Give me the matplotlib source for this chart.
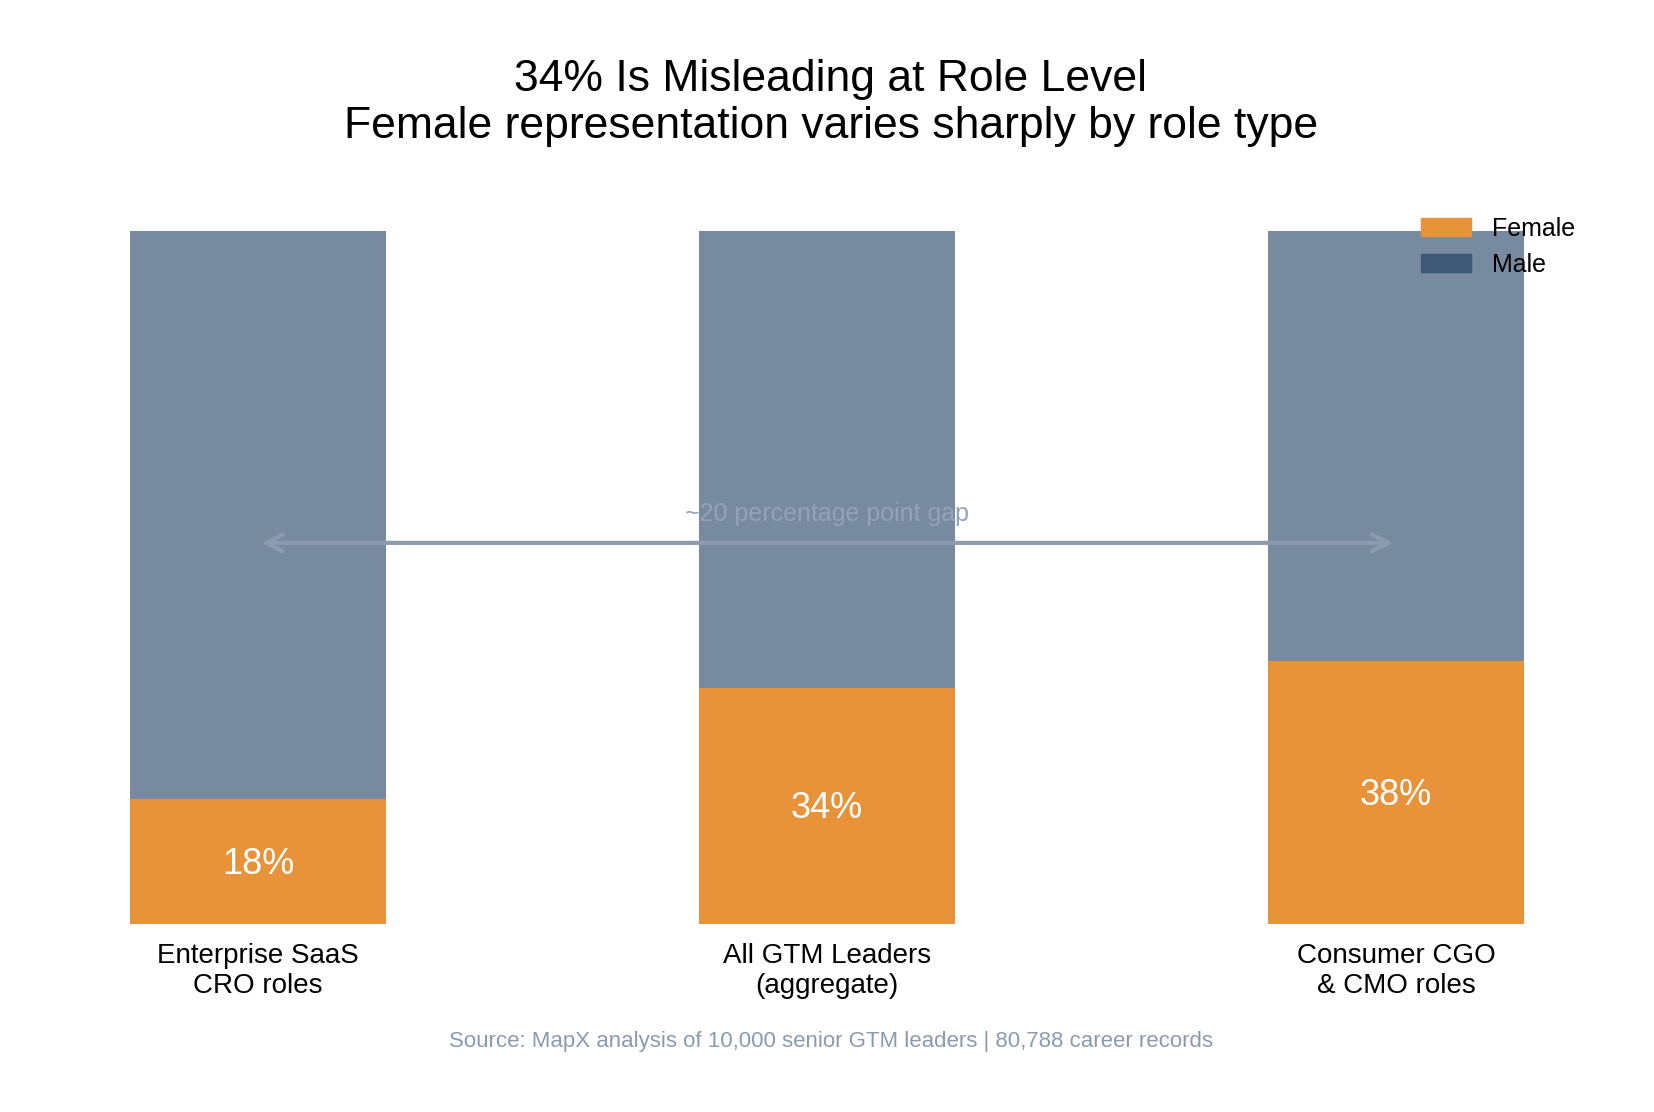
import matplotlib
matplotlib.use("Agg")
import matplotlib.pyplot as plt
import matplotlib.patches as mpatches
import numpy as np

plt.rcParams['font.family'] = ['Liberation Sans', 'DejaVu Sans']

categories = ["Enterprise SaaS\nCRO roles", "All GTM Leaders\n(aggregate)", "Consumer CGO\n& CMO roles"]
female = [18, 34, 38]
male = [82, 66, 62]

female_color = "#E8923A"
male_color = "#3E5877"

fig = plt.figure(figsize=(16.54, 11.12), dpi=100)
ax = fig.add_axes([130 / 1654, 1 - 924 / 1112, 1394 / 1654, 693 / 1112])

x = np.arange(len(categories))
ax.bar(x, female, width=0.45, color=female_color, label="Female")
ax.bar(x, male, width=0.45, bottom=female, color=male_color, alpha=0.7, label="Male")

for xi, f in zip(x, female):
    ax.text(xi, f / 2 - 0.4, f"{f}%", ha="center", va="center", color="white", fontsize=26)

ax.annotate("", xy=(1.995, 55), xytext=(0.006, 55),
            arrowprops=dict(arrowstyle="<->", color="#8C9BAD", lw=3, mutation_scale=30,
                            shrinkA=0, shrinkB=0))
ax.text(1, 59.2, "~20 percentage point gap", ha="center", va="center", color="#94A3B8", fontsize=18)

ax.set_xlim(-0.225, 2.225)
ax.set_ylim(0, 100)
ax.set_xticks(x)
ax.set_xticklabels(categories, fontsize=20, linespacing=1.2)
ax.tick_params(axis="x", length=0, pad=14)
ax.set_yticks([])
for s in ax.spines.values():
    s.set_visible(False)

handles = [mpatches.Patch(color=female_color, label="Female"),
           mpatches.Patch(color=male_color, label="Male")]
fig.legend(handles=handles, loc="upper left", bbox_to_anchor=(1398 / 1654, 1 - 194 / 1112),
           frameon=False, fontsize=18, handlelength=2.0, handleheight=0.7, labelspacing=0.48,
           handletextpad=0.85)

fig.text(831 / 1654, 1 - 103 / 1112, "34% Is Misleading at Role Level\nFemale representation varies sharply by role type",
         ha="center", va="center", fontsize=32, linespacing=1.2)
fig.text(831 / 1654, 1 - 1042 / 1112, "Source: MapX analysis of 10,000 senior GTM leaders | 80,788 career records",
         ha="center", va="center", fontsize=16, color="#8A9BB0")

fig.savefig("out.png", dpi=100)
